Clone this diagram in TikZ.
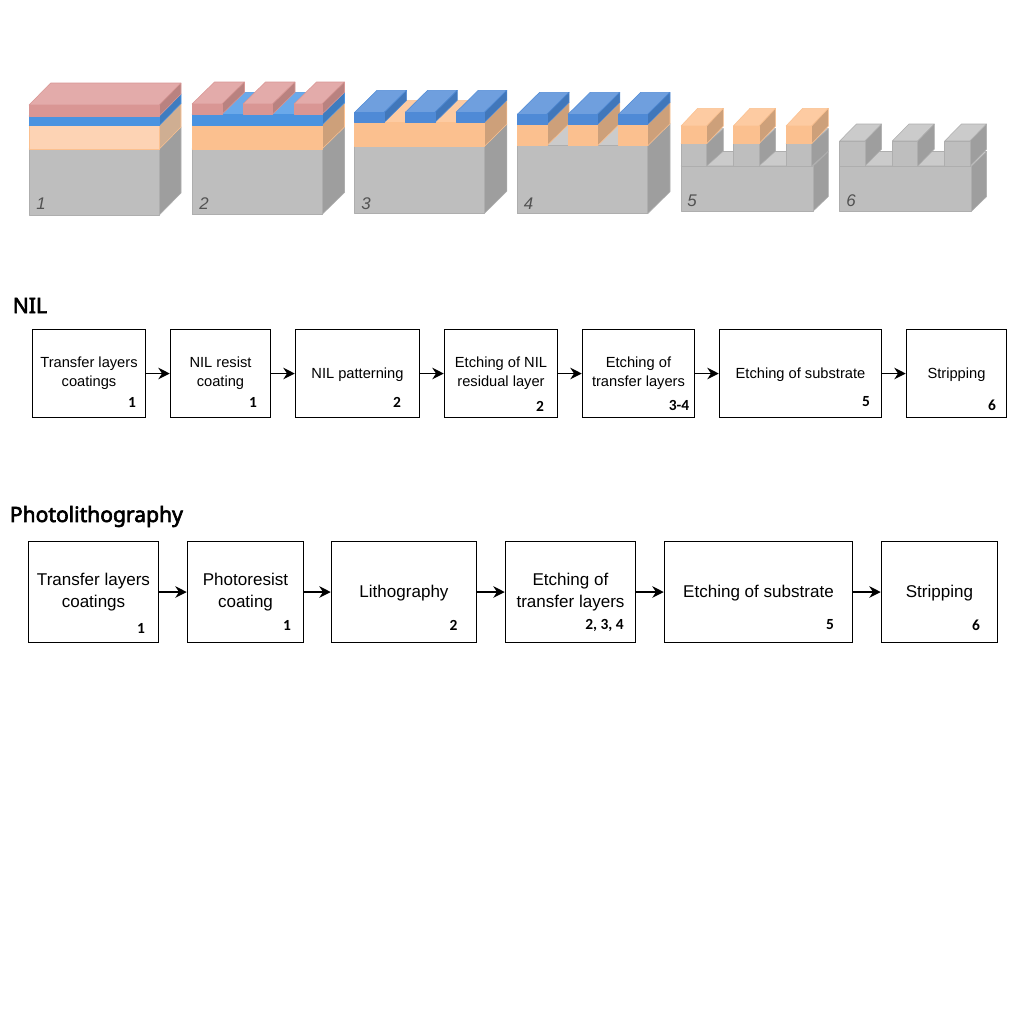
\documentclass[tikz,border=0pt]{standalone}
\usepackage{fontspec}
\setmainfont{Liberation Sans}
\newfontfamily\boldlab{Carlito}[BoldFont={Carlito Bold}]
\newfontfamily\headfont{Noto Sans}[FakeBold=3]
\usetikzlibrary{arrows.meta}
\definecolor{gF}{HTML}{BEBEBE}\definecolor{gT}{HTML}{CBCBCB}\definecolor{gS}{HTML}{9E9E9E}\definecolor{gE}{HTML}{AEAEAE}
\definecolor{pF}{HTML}{D99694}\definecolor{pT}{HTML}{E3ABAA}\definecolor{pS}{HTML}{B98280}\definecolor{pE}{HTML}{D99694}
\definecolor{bF}{HTML}{4A93E0}\definecolor{bT}{HTML}{6AA9EA}\definecolor{bS}{HTML}{3F7CBF}\definecolor{bE}{HTML}{4A93E0}
\definecolor{cF}{HTML}{4F8AD6}\definecolor{cT}{HTML}{6F9FDE}\definecolor{cS}{HTML}{4177BA}\definecolor{cE}{HTML}{4F8AD6}
\definecolor{lF}{HTML}{FDD3B4}\definecolor{lT}{HTML}{FDD3B4}\definecolor{lS}{HTML}{CFAE92}\definecolor{lE}{HTML}{FBC08F}
\definecolor{oF}{HTML}{FBC08F}\definecolor{oT}{HTML}{FDCBA2}\definecolor{oS}{HTML}{CDA07A}\definecolor{oE}{HTML}{FBC08F}
% x0 x1 ytop ybottom dx dy, colour-prefix
\newcommand{\cub}[7]{%
  \filldraw[cubeface,fill=#7T,draw=#7E] (#1,#3) -- ({#1+#5},{#3-#6}) -- ({#2+#5},{#3-#6}) -- (#2,#3) -- cycle;
  \filldraw[cubeface,fill=#7S,draw=#7E] (#2,#3) -- ({#2+#5},{#3-#6}) -- ({#2+#5},{#4-#6}) -- (#2,#4) -- cycle;
  \filldraw[cubeface,fill=#7F,draw=#7E] (#1,#3) rectangle (#2,#4);
}
\tikzset{
  cubeface/.style={line width=0.3pt,line join=round},
  stepbox/.style={draw=black,line width=0.85pt,fill=white,align=center,inner sep=0pt,font=\fontsize{8.35pt}{10.8pt}\selectfont,execute at begin node={\rule{0pt}{7.1pt}}},
  bigbox/.style={stepbox,font=\fontsize{9.7pt}{12.5pt}\selectfont,execute at begin node={\rule{0pt}{8.65pt}}},
  flow/.style={draw=black,line width=0.85pt,-{Stealth[length=6.5pt,width=6.5pt]}},
  stepno/.style={inner sep=0pt,font=\boldlab\bfseries\fontsize{8.8pt}{10pt}\selectfont},
  blockno/.style={inner sep=0pt,text=black!68,font=\itshape\fontsize{9.6pt}{11pt}\selectfont},
  heading/.style={inner sep=0pt,anchor=west,font=\headfont\fontsize{12pt}{14pt}\selectfont}
}
\newcommand{\stepnode}[7]{% style name x0 x1 y0 y1 text
  \node[#1,minimum width={(#4-#3)*0.02cm},minimum height={(#6-#5)*0.02cm}] (#2) at ({(#3+#4)/2},{(#5+#6)/2}) {#7};
}
\begin{document}
\begin{tikzpicture}[x=0.02cm,y=-0.02cm]
\useasboundingbox[fill=white] (0,0) rectangle (1012,1012);
% block 1
\cub{29}{159.3}{149}{215}{21.7}{22}{g}
\cub{29}{159.3}{125.5}{149}{21.7}{22}{l}
\cub{29}{159.3}{116}{125.5}{21.7}{22}{b}
\cub{29}{159.3}{105}{116}{21.7}{22}{p}
% block 2
\cub{192}{322}{149}{214.5}{22.5}{22}{g}
\cub{192}{322}{125}{149}{22.5}{22}{o}
\cub{192}{322}{114.3}{125}{22.5}{22}{b}
\cub{192}{222}{104}{114.3}{22.5}{22}{p}
\cub{243}{272.5}{104}{114.3}{22.5}{22}{p}
\cub{294}{322}{104}{114.3}{22.5}{22}{p}
% block 3
\cub{354.7}{484.5}{146.3}{213.3}{22.3}{22}{g}
\cub{354.7}{484.5}{122.3}{146.3}{22.3}{22}{o}
\cub{354.7}{384.3}{112.3}{122.3}{22.3}{22}{c}
\cub{405.3}{435}{112.3}{122.3}{22.3}{22}{c}
\cub{456}{484.5}{112.3}{122.3}{22.3}{22}{c}
% block 4
\cub{517.3}{647.7}{145.7}{213.7}{22.3}{22}{g}
\cub{517.3}{546.8}{124.5}{145.7}{22.3}{22}{o}
\cub{517.3}{546.8}{114.3}{124.5}{22.3}{22}{c}
\cub{568}{597.5}{124.5}{145.7}{22.3}{22}{o}
\cub{568}{597.5}{114.3}{124.5}{22.3}{22}{c}
\cub{618.5}{647.7}{124.5}{145.7}{22.3}{22}{o}
\cub{618.5}{647.7}{114.3}{124.5}{22.3}{22}{c}
% block 5
\cub{681}{813.3}{166}{211}{15}{14.5}{g}
\cub{681}{706.7}{143.7}{166}{16.7}{15}{g}
\cub{681}{706.7}{126}{143.7}{16.7}{17.7}{o}
\cub{733.3}{759}{143.7}{166}{16.7}{15}{g}
\cub{733.3}{759}{126}{143.7}{16.7}{17.7}{o}
\cub{786}{811.7}{143.7}{166}{16.7}{15}{g}
\cub{786}{811.7}{126}{143.7}{16.7}{17.7}{o}
% block 6
\cub{839.3}{971.7}{166}{211}{15}{14.5}{g}
\cub{839.7}{865}{141}{166}{16.7}{17}{g}
\cub{892.3}{917.7}{141}{166}{16.7}{17}{g}
\cub{944.7}{970}{141}{166}{16.7}{17}{g}
% block numbers
\node[blockno] (n1) at (41,203.5) {1};
\node[blockno] (n2) at (204,203.5) {2};
\node[blockno] (n3) at (366,203.5) {3};
\node[blockno] (n4) at (528.5,203.5) {4};
\node[blockno] (n5) at (692,200.5) {5};
\node[blockno] (n6) at (851,200.5) {6};
% headings
\node[heading] (nilh) at (12.5,305.5) {NIL};
\node[heading] (phoh) at (9.5,516.5) {Photolithography};
% NIL row
\stepnode{stepbox}{a1}{32.5}{145.5}{329.5}{417.5}{Transfer layers\\coatings}
\stepnode{stepbox}{a2}{170.5}{270.5}{329.5}{417.5}{NIL resist\\coating}
\stepnode{stepbox}{a3}{295.5}{419.5}{329.5}{417.5}{NIL patterning}
\stepnode{stepbox}{a4}{444.5}{557.5}{329.5}{417.5}{Etching of NIL\\residual layer}
\stepnode{stepbox}{a5}{582.5}{694.5}{329.5}{417.5}{Etching of\\transfer layers}
\stepnode{stepbox}{a6}{719.5}{881.5}{329.5}{417.5}{Etching of substrate}
\stepnode{stepbox}{a7}{906.5}{1006.5}{329.5}{417.5}{Stripping}
\foreach \p/\q in {a1/a2,a2/a3,a3/a4,a4/a5,a5/a6,a6/a7}{\draw[flow] (\p) -- (\q);}
\node[stepno] (a1n) at (132,402) {1};
\node[stepno] (a2n) at (253,402) {1};
\node[stepno] (a3n) at (397,402) {2};
\node[stepno] (a4n) at (540,406) {2};
\node[stepno] (a5n) at (679,405.5) {3-4};
\node[stepno] (a6n) at (866,401.5) {5};
\node[stepno] (a7n) at (992,405.5) {6};
% Photolithography row
\stepnode{bigbox}{b1}{28.5}{158.5}{541.5}{642.5}{Transfer layers\\coatings}
\stepnode{bigbox}{b2}{187.5}{303.5}{541.5}{642.5}{Photoresist\\coating}
\stepnode{bigbox}{b3}{331.5}{476.5}{541.5}{642.5}{Lithography}
\stepnode{bigbox}{b4}{505.5}{635.5}{541.5}{642.5}{Etching of\\transfer layers}
\stepnode{bigbox}{b5}{664.5}{852.5}{541.5}{642.5}{Etching of substrate}
\stepnode{bigbox}{b6}{881.5}{997.5}{541.5}{642.5}{Stripping}
\foreach \p/\q in {b1/b2,b2/b3,b3/b4,b4/b5,b5/b6}{\draw[flow] (\p) -- (\q);}
\node[stepno] (b1n) at (141,628.5) {1};
\node[stepno] (b2n) at (287,625) {1};
\node[stepno] (b3n) at (453.5,625) {2};
\node[stepno] (b4n) at (604.5,625.5) {2, 3, 4};
\node[stepno] (b5n) at (830,625) {5};
\node[stepno] (b6n) at (976,625) {6};
\end{tikzpicture}
\end{document}
